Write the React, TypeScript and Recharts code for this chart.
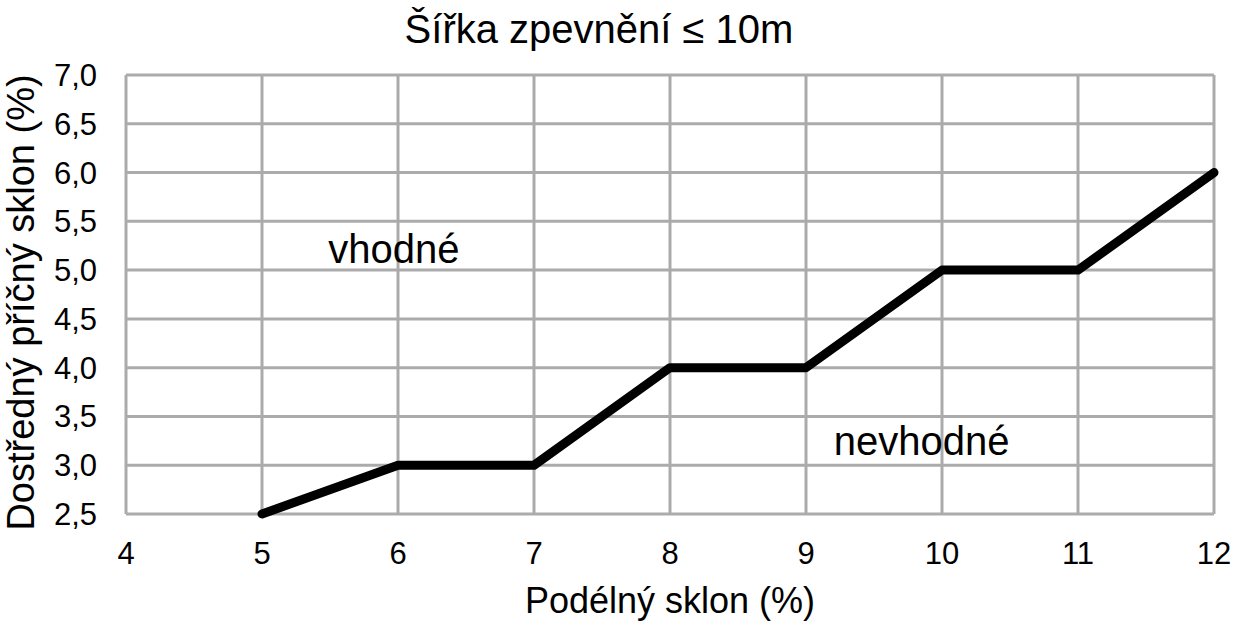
import React from 'react'
import {
  LineChart,
  Line,
  XAxis,
  YAxis,
  CartesianGrid,
  ReferenceDot,
} from 'recharts'

const podelnySklon = [5, 6, 7, 8, 9, 10, 11, 12]
const pricnySklon = [2.5, 3, 3, 4, 4, 5, 5, 6]

const xTicks = [4, 5, 6, 7, 8, 9, 10, 11, 12]
const yTicks = [2.5, 3, 3.5, 4, 4.5, 5, 5.5, 6, 6.5, 7]

const areaLabels = ['vhodné', 'nevhodné']
const areaX = [5.97, 9.85]
const areaY = [5.22, 3.25]

const data = podelnySklon.map((x, i) => ({ x, y: pricnySklon[i] }))

const font = '"Liberation Sans", Arial, sans-serif'
const gridColor = '#ababab'

const fmt = (v: number) => v.toFixed(1).replace('.', ',')

// y axis title, nudged a bit down like in the original
const YTitle = (props: any) => {
  const vb = props.viewBox || {}
  const cx = (vb.x ?? 0) + 21
  const cy = (vb.y ?? 0) + (vb.height ?? 0) / 2 + 8
  return (
    <text
      x={cx}
      y={cy}
      transform={`rotate(-90 ${cx} ${cy})`}
      textAnchor="middle"
      dy="0.355em"
      fontSize={38}
      fill="#000"
      fontFamily={font}
    >
      Dostředný příčný sklon (%)
    </text>
  )
}

export default function App() {
  return (
    <div style={{ position: 'absolute', left: 0, top: 0, width: 1238, height: 630, background: '#fff', fontFamily: font }}>
      <div
        style={{
          position: 'absolute',
          top: 7,
          left: 0,
          width: 1198,
          textAlign: 'center',
          fontSize: 40,
          color: '#000',
          lineHeight: '44px',
        }}
      >
        Šířka zpevnění ≤ 10m
      </div>
      <LineChart
        width={1238}
        height={630}
        data={data}
        margin={{ top: 75, right: 24, bottom: 30, left: 40 }}
      >
        <CartesianGrid stroke={gridColor} strokeWidth={3} />
        <XAxis
          dataKey="x"
          type="number"
          domain={[4, 12]}
          ticks={xTicks}
          interval={0}
          height={86}
          axisLine={false}
          tickLine={false}
          tickSize={0}
          tickMargin={28}
          tick={{ fontSize: 31, fill: '#000', fontFamily: font }}
          label={{ value: 'Podélný sklon (%)', position: 'insideBottom', offset: -13, fontSize: 36, fill: '#000', fontFamily: font }}
        />
        <YAxis
          type="number"
          domain={[2.5, 7]}
          ticks={yTicks}
          interval={0}
          width={86}
          axisLine={false}
          tickLine={false}
          tickSize={0}
          tickMargin={29}
          tickFormatter={fmt}
          tick={{ fontSize: 31, fill: '#000', fontFamily: font }}
          label={{ content: (p: any) => <YTitle viewBox={{ ...p.viewBox, x: 0 }} /> }}
        />
        {areaLabels.map((t, i) => (
          <ReferenceDot
            key={t}
            x={areaX[i]}
            y={areaY[i]}
            r={0}
            stroke="none"
            fill="none"
            label={{ value: t, position: 'center', fontSize: 40, fill: '#000', fontFamily: font }}
          />
        ))}
        <Line
          type="linear"
          dataKey="y"
          stroke="#000"
          strokeWidth={9}
          strokeLinecap="round"
          strokeLinejoin="round"
          dot={false}
          activeDot={false}
          isAnimationActive={false}
        />
      </LineChart>
    </div>
  )
}
